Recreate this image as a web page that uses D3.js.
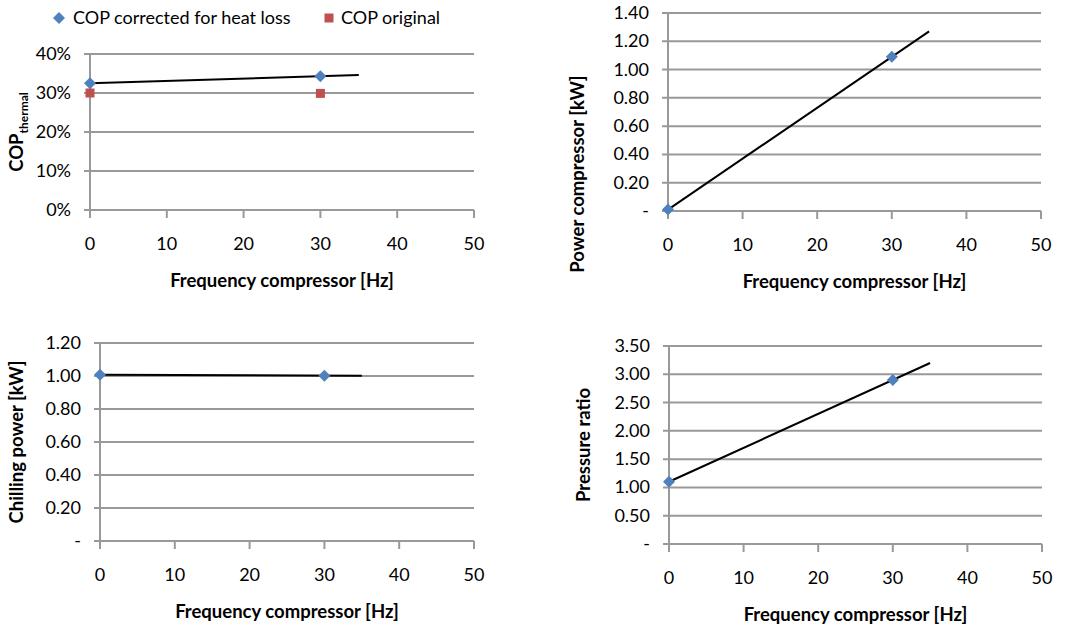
<!DOCTYPE html>
<html>
<head>
<meta charset="utf-8">
<script src="https://cdnjs.cloudflare.com/ajax/libs/d3/7.8.5/d3.min.js"></script>
<style>
  body { margin: 0; background: #fff; }
  svg text { font-family: Lato, "Open Sans", sans-serif; fill: #000; }
  .tick-label { font-size: 18px; }
  .axis-title { font-size: 18.5px; font-weight: bold; }
  .legend-label { font-size: 18px; }
</style>
</head>
<body>
<div id="chart"></div>
<script>
// Data.
var frequency = [0, 30];
var copCorrected = [0.325, 0.343];
var copOriginal = [0.300, 0.299];
var powerCompressor = [0.01, 1.09];
var chillingPower = [1.008, 1.002];
var pressureRatio = [1.10, 2.90];

var xTicks = [0, 10, 20, 30, 40, 50];
var copTicks = [0, 0.1, 0.2, 0.3, 0.4];
var powerTicks = [0, 0.2, 0.4, 0.6, 0.8, 1.0, 1.2, 1.4];
var chillTicks = [0, 0.2, 0.4, 0.6, 0.8, 1.0, 1.2];
var ratioTicks = [0, 0.5, 1.0, 1.5, 2.0, 2.5, 3.0, 3.5];

var legendLabels = ['COP corrected for heat loss', 'COP original'];
var TREND_END = 35;

var BLUE = '#4F81BD';
var RED = '#C0504D';
var GRID = '#999999';

var width = 1072, height = 628;
var svg = d3.select('#chart').append('svg')
    .attr('width', width)
    .attr('height', height);

// Excel style: zero shown as a dash, others with two decimals.
function dashFormat(d) {
  return d === 0 ? '-' : d3.format('.2f')(d);
}

// Least squares line through the points, extended to TREND_END.
function trend(xs, ys) {
  var mx = d3.mean(xs), my = d3.mean(ys);
  var num = d3.sum(xs, function(x, i) { return (x - mx) * (ys[i] - my); });
  var den = d3.sum(xs, function(x) { return (x - mx) * (x - mx); });
  var slope = num / den;
  var b = my - slope * mx;
  return [[0, b], [TREND_END, slope * TREND_END + b]];
}

function drawPanel(p) {
  var x = d3.scaleLinear().domain([0, 50]).range([p.left, p.right]);
  var y = d3.scaleLinear().domain([0, p.yMax]).range([p.bottom, p.top]);
  var g = svg.append('g');

  // Gridlines (also act as y tick marks on the left).
  g.selectAll('line.grid').data(p.yTicks).enter().append('line')
      .attr('x1', p.left - 6).attr('x2', p.right)
      .attr('y1', function(d) { return y(d); })
      .attr('y2', function(d) { return y(d); })
      .attr('stroke', GRID).attr('stroke-width', 2);

  // Vertical axis line.
  g.append('line')
      .attr('x1', p.left).attr('x2', p.left)
      .attr('y1', p.top).attr('y2', p.bottom)
      .attr('stroke', GRID).attr('stroke-width', 2);

  // X tick marks.
  g.selectAll('line.xtick').data(xTicks).enter().append('line')
      .attr('x1', function(d) { return x(d); })
      .attr('x2', function(d) { return x(d); })
      .attr('y1', p.bottom).attr('y2', p.bottom + 8)
      .attr('stroke', GRID).attr('stroke-width', 2);

  // Tick labels.
  g.selectAll('text.ylab').data(p.yTicks).enter().append('text')
      .attr('class', 'tick-label')
      .attr('x', p.left - 19)
      .attr('y', function(d) { return y(d) + 6; })
      .attr('text-anchor', 'end')
      .text(p.yFormat);

  g.selectAll('text.xlab').data(xTicks).enter().append('text')
      .attr('class', 'tick-label')
      .attr('x', function(d) { return x(d); })
      .attr('y', p.bottom + 40)
      .attr('text-anchor', 'middle')
      .text(function(d) { return d; });

  // Axis titles.
  g.append('text')
      .attr('class', 'axis-title')
      .attr('x', (p.left + p.right) / 2)
      .attr('y', p.bottom + 77)
      .attr('text-anchor', 'middle')
      .text('Frequency compressor [Hz]');

  var yt = g.append('text')
      .attr('class', 'axis-title')
      .attr('text-anchor', 'middle')
      .attr('transform', 'translate(' + p.yTitleX + ',' + p.yTitleY + ') rotate(-90)');
  yt.append('tspan').text(p.yTitle);
  if (p.yTitleSub) {
    yt.append('tspan').attr('dy', 5).style('font-size', '12px').text(p.yTitleSub);
  }

  // Trendline.
  var line = d3.line()
      .x(function(d) { return x(d[0]); })
      .y(function(d) { return y(d[1]); });
  g.append('path')
      .datum(trend(frequency, p.values))
      .attr('d', line)
      .attr('fill', 'none')
      .attr('stroke', '#000')
      .attr('stroke-width', 2);

  // Secondary series (squares).
  if (p.values2) {
    g.selectAll('rect.pt').data(p.values2).enter().append('rect')
        .attr('x', function(d, i) { return x(frequency[i]) - 4.5; })
        .attr('y', function(d) { return y(d) - 4.5; })
        .attr('width', 9).attr('height', 9)
        .attr('fill', RED);
  }

  // Main series (diamonds).
  g.selectAll('path.pt').data(p.values).enter().append('path')
      .attr('d', 'M0,-6L6,0L0,6L-6,0Z')
      .attr('transform', function(d, i) {
        return 'translate(' + x(frequency[i]) + ',' + y(d) + ')';
      })
      .attr('fill', BLUE);
}

drawPanel({
  left: 90, right: 474, top: 54, bottom: 210, yMax: 0.4,
  yTicks: copTicks, yFormat: d3.format('.0%'),
  values: copCorrected, values2: copOriginal,
  yTitle: 'COP', yTitleSub: 'thermal', yTitleX: 23, yTitleY: 132
});
drawPanel({
  left: 668, right: 1041, top: 13, bottom: 211, yMax: 1.4,
  yTicks: powerTicks, yFormat: dashFormat,
  values: powerCompressor,
  yTitle: 'Power compressor [kW]', yTitleX: 584, yTitleY: 174
});
drawPanel({
  left: 100, right: 474, top: 343, bottom: 541, yMax: 1.2,
  yTicks: chillTicks, yFormat: dashFormat,
  values: chillingPower,
  yTitle: 'Chilling power [kW]', yTitleX: 23, yTitleY: 442
});
drawPanel({
  left: 669, right: 1042, top: 346, bottom: 544, yMax: 3.5,
  yTicks: ratioTicks, yFormat: dashFormat,
  values: pressureRatio,
  yTitle: 'Pressure ratio', yTitleX: 590, yTitleY: 445
});

// Legend for the first panel.
var legend = svg.append('g');
legend.append('path')
    .attr('d', 'M0,-6L6,0L0,6L-6,0Z')
    .attr('transform', 'translate(59,18)')
    .attr('fill', BLUE);
legend.append('rect')
    .attr('x', 324.5).attr('y', 13.5).attr('width', 9).attr('height', 9)
    .attr('fill', RED);
legend.selectAll('text').data(legendLabels).enter().append('text')
    .attr('class', 'legend-label')
    .attr('x', function(d, i) { return i === 0 ? 73 : 341; })
    .attr('y', 24)
    .text(function(d) { return d; });
</script>
</body>
</html>
